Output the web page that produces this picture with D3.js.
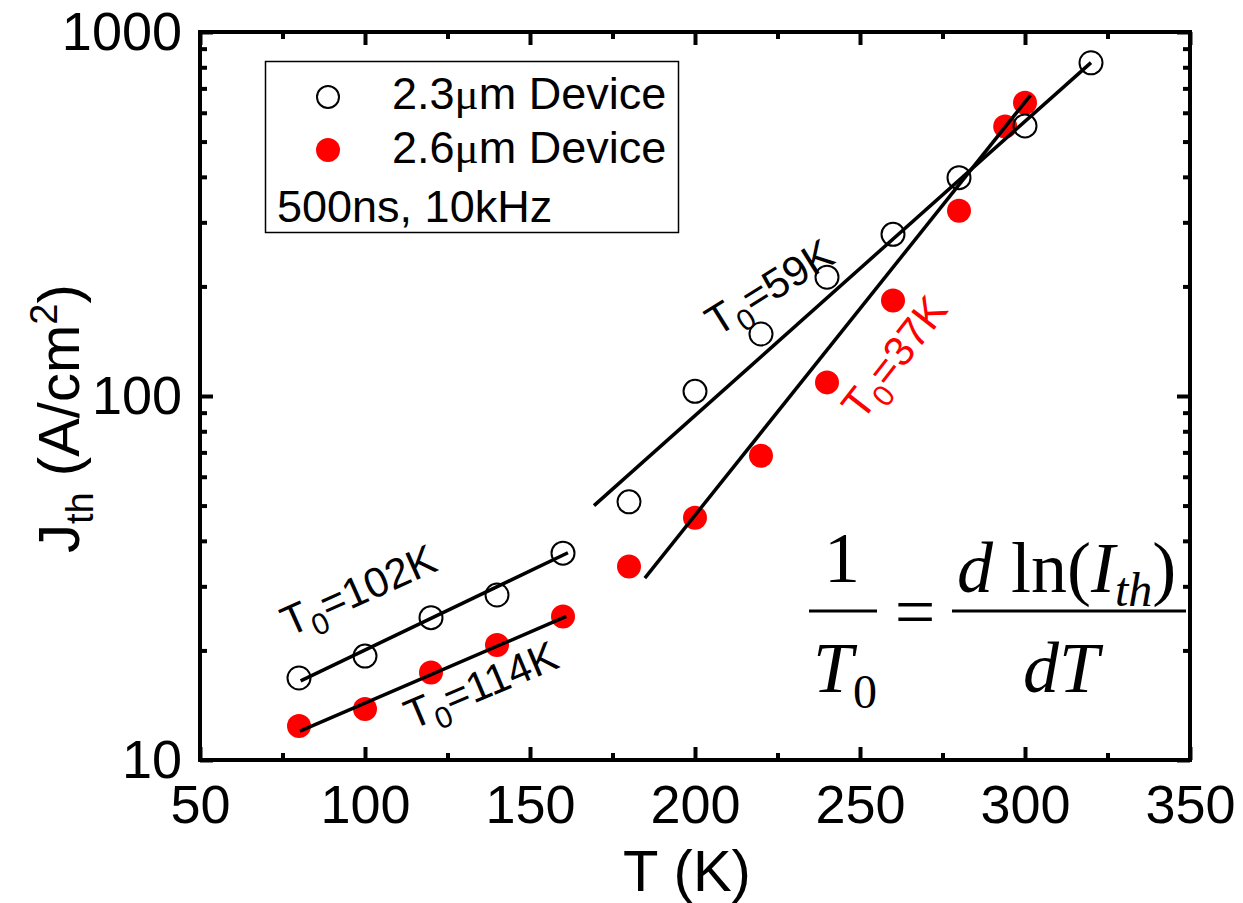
<!DOCTYPE html>
<html>
<head>
<meta charset="utf-8">
<script src="https://cdn.jsdelivr.net/npm/d3@7"></script>
<style>
  body { margin: 0; background: #fff; }
  text { font-family: "Liberation Sans", Arial, sans-serif; }
</style>
</head>
<body>
<div id="chart"></div>
<script>

// 2.3um device (open circles)
var temps23 = [80, 100, 120, 140, 160, 180, 200, 220, 240, 260, 280, 300, 320];
var jth23 = [16.8, 19.3, 24.6, 28.4, 37.0, 51.2, 103, 148, 212, 278, 398, 552, 823];

// 2.6um device (red dots)
var temps26 = [80, 100, 120, 140, 160, 180, 200, 220, 240, 260, 280, 294, 300];
var jth26 = [12.4, 13.8, 17.4, 20.7, 24.8, 34.0, 46.3, 68.5, 109, 183, 323, 550, 639];

// fitted lines, end points [T, Jth]
var fit102 = [[80.5, 16.5], [161.5, 37.1]];
var fit114 = [[80.3, 12.0], [161, 24.8]];
var fit59 = [[169.4, 50], [320, 824]];
var fit37 = [[184.8, 31.6], [301.7, 671]];

var xTicks = [50, 100, 150, 200, 250, 300, 350];
var xMinor = [75, 125, 175, 225, 275, 325];
var yTicks = [10, 100, 1000];
var yMinor = [20, 30, 40, 50, 60, 70, 80, 90, 200, 300, 400, 500, 600, 700, 800, 900];

var svgWidth = 1243;
var svgHeight = 903;
var margin = { top: 32, right: 53, bottom: 143, left: 200 };
var width = svgWidth - margin.left - margin.right;
var height = svgHeight - margin.top - margin.bottom;

var svg = d3.select("#chart")
  .append("svg")
  .attr("width", svgWidth)
  .attr("height", svgHeight);

svg.append("rect")
  .attr("width", svgWidth)
  .attr("height", svgHeight)
  .attr("fill", "#fff");

var chartGroup = svg.append("g")
  .attr("transform", `translate(${margin.left}, ${margin.top})`);

var x = d3.scaleLinear().domain([50, 350]).range([0, width]);
var y = d3.scaleLog().domain([10, 1000]).range([height, 0]);

function styleAxis(g, fontSize) {
  g.select(".domain").remove();
  g.selectAll(".tick line")
    .attr("stroke", "#000")
    .attr("stroke-width", 4);
  g.selectAll(".tick text")
    .attr("fill", "#000")
    .style("font-size", fontSize + "px")
    .style("font-family", "'Liberation Sans', Arial, sans-serif");
}

// bottom axis
chartGroup.append("g")
  .attr("transform", `translate(0, ${height})`)
  .call(d3.axisBottom(x).tickValues(xTicks).tickSize(-13).tickPadding(25).tickFormat(d3.format("d")))
  .call(styleAxis, 54);
chartGroup.append("g")
  .attr("transform", `translate(0, ${height})`)
  .call(d3.axisBottom(x).tickValues(xMinor).tickSize(-7).tickFormat(""))
  .call(styleAxis, 54);

// top axis
chartGroup.append("g")
  .call(d3.axisTop(x).tickValues(xTicks).tickSize(-13).tickFormat(""))
  .call(styleAxis, 54);
chartGroup.append("g")
  .call(d3.axisTop(x).tickValues(xMinor).tickSize(-7).tickFormat(""))
  .call(styleAxis, 54);

// left axis
chartGroup.append("g")
  .call(d3.axisLeft(y).tickValues(yTicks).tickSize(-13).tickPadding(18).tickFormat(d3.format("d")))
  .call(styleAxis, 54);
chartGroup.append("g")
  .call(d3.axisLeft(y).tickValues(yMinor).tickSize(-7).tickFormat(""))
  .call(styleAxis, 54);

// right axis
chartGroup.append("g")
  .attr("transform", `translate(${width}, 0)`)
  .call(d3.axisRight(y).tickValues(yTicks).tickSize(-13).tickFormat(""))
  .call(styleAxis, 54);
chartGroup.append("g")
  .attr("transform", `translate(${width}, 0)`)
  .call(d3.axisRight(y).tickValues(yMinor).tickSize(-7).tickFormat(""))
  .call(styleAxis, 54);

chartGroup.append("rect")
  .attr("width", width)
  .attr("height", height)
  .attr("fill", "none")
  .attr("stroke", "#000")
  .attr("stroke-width", 4);

// axis titles
svg.append("text")
  .attr("x", 687)
  .attr("y", 891)
  .attr("text-anchor", "middle")
  .style("font-size", "58px")
  .text("T (K)");

var yTitle = svg.append("text")
  .attr("transform", "translate(79, 553) rotate(-90)")
  .attr("text-anchor", "start")
  .style("font-size", "58px");
yTitle.append("tspan").text("J");
yTitle.append("tspan").attr("dy", 14).style("font-size", "38px").text("th");
yTitle.append("tspan").attr("dy", -14).text(" (A/cm");
yTitle.append("tspan").attr("dy", -22).style("font-size", "38px").text("2");
yTitle.append("tspan").attr("dy", 22).text(")");

// data points
var pts23 = temps23.map((t, i) => ({ t: t, j: jth23[i] }));
var pts26 = temps26.map((t, i) => ({ t: t, j: jth26[i] }));

chartGroup.selectAll(".dot26")
  .data(pts26)
  .enter()
  .append("circle")
  .classed("dot26", true)
  .attr("cx", d => x(d.t))
  .attr("cy", d => y(d.j))
  .attr("r", 12)
  .attr("fill", "#ff0000");

chartGroup.selectAll(".dot23")
  .data(pts23)
  .enter()
  .append("circle")
  .classed("dot23", true)
  .attr("cx", d => x(d.t))
  .attr("cy", d => y(d.j))
  .attr("r", 11.5)
  .attr("fill", "none")
  .attr("stroke", "#000")
  .attr("stroke-width", 2);

// fit lines
var line = d3.line()
  .x(d => x(d[0]))
  .y(d => y(d[1]));

[fit102, fit114, fit59, fit37].forEach(function(f) {
  chartGroup.append("path")
    .attr("d", line(f))
    .attr("fill", "none")
    .attr("stroke", "#000")
    .attr("stroke-width", 3.5);
});

// T0 labels
function t0Label(px, py, angle, value, color) {
  var t = svg.append("text")
    .attr("transform", `translate(${px}, ${py}) rotate(${angle})`)
    .attr("fill", color)
    .style("font-size", "42px");
  t.append("tspan").text("T");
  t.append("tspan").attr("dy", 11).style("font-size", "30px").text("0");
  t.append("tspan").attr("dy", -11).text("=" + value + "K");
}
t0Label(289, 637, -24, 102, "#000");
t0Label(412, 730, -23, 114, "#000");
t0Label(717, 337, -32, 59, "#000");
t0Label(862, 422, -52, 37, "#ff0000");

// legend
var legend = svg.append("g");
legend.append("rect")
  .attr("x", 265.5)
  .attr("y", 61.5)
  .attr("width", 413)
  .attr("height", 171)
  .attr("fill", "#fff")
  .attr("stroke", "#000")
  .attr("stroke-width", 1.5);
legend.append("circle")
  .attr("cx", 328).attr("cy", 97).attr("r", 11)
  .attr("fill", "none").attr("stroke", "#000").attr("stroke-width", 2);
legend.append("circle")
  .attr("cx", 328).attr("cy", 150).attr("r", 12)
  .attr("fill", "#ff0000");

var legendLabels = ["2.3", "2.6"];
legendLabels.forEach(function(lbl, i) {
  var t = legend.append("text")
    .attr("x", 392)
    .attr("y", 109 + i * 54)
    .style("font-size", "45px");
  t.append("tspan").text(lbl);
  t.append("tspan").style("font-family", "'Liberation Serif', serif").text("\u03bc");
  t.append("tspan").text("m Device");
});
legend.append("text")
  .attr("x", 277)
  .attr("y", 222)
  .style("font-size", "45px")
  .text("500ns, 10kHz");

// formula
var formula = svg.append("g")
  .style("font-family", "'Liberation Serif', 'Times New Roman', serif");
formula.append("text")
  .attr("x", 842).attr("y", 582)
  .attr("text-anchor", "middle")
  .style("font-family", "'Liberation Serif', serif")
  .style("font-size", "72px")
  .text("1");
formula.append("line")
  .attr("x1", 809).attr("x2", 877)
  .attr("y1", 611).attr("y2", 611)
  .attr("stroke", "#000").attr("stroke-width", 3);
var den1 = formula.append("text")
  .attr("x", 813).attr("y", 692)
  .style("font-family", "'Liberation Serif', serif")
  .style("font-size", "72px");
den1.append("tspan").style("font-style", "italic").text("T");
den1.append("tspan").attr("dy", 16).style("font-size", "48px").text("0");

formula.append("text")
  .attr("x", 915).attr("y", 636)
  .attr("text-anchor", "middle")
  .style("font-family", "'Liberation Serif', serif")
  .style("font-size", "72px")
  .text("=");

formula.append("line")
  .attr("x1", 952).attr("x2", 1186)
  .attr("y1", 611).attr("y2", 611)
  .attr("stroke", "#000").attr("stroke-width", 3);
var num2 = formula.append("text")
  .attr("x", 957).attr("y", 592)
  .style("font-family", "'Liberation Serif', serif")
  .style("font-size", "72px");
num2.append("tspan").style("font-style", "italic").text("d");
num2.append("tspan").text(" ln(");
num2.append("tspan").style("font-style", "italic").text("I");
num2.append("tspan").attr("dy", 14).style("font-style", "italic").style("font-size", "48px").text("th");
num2.append("tspan").attr("dy", -14).text(")");
formula.append("text")
  .attr("x", 1061).attr("y", 692)
  .attr("text-anchor", "middle")
  .style("font-family", "'Liberation Serif', serif")
  .style("font-style", "italic")
  .style("font-size", "72px")
  .text("dT");

</script>
</body>
</html>
